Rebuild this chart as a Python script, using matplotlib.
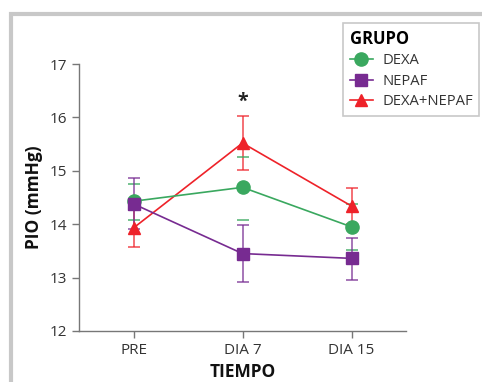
import matplotlib
matplotlib.use("Agg")
import matplotlib.pyplot as plt
from matplotlib.lines import Line2D
from matplotlib.patches import Rectangle

plt.rcParams['font.family'] = ['Open Sans', 'DejaVu Sans']

categories = ["PRE", "DIA 7", "DIA 15"]
dexa = [14.43, 14.69, 13.95]
dexa_hi = [14.75, 15.26, 14.38]
dexa_lo = [14.07, 14.08, 13.52]
nepaf = [14.38, 13.45, 13.36]
nepaf_hi = [14.87, 13.98, 13.75]
nepaf_lo = [13.91, 12.92, 12.96]
combo = [13.93, 15.52, 14.34]
combo_hi = [14.27, 16.02, 14.68]
combo_lo = [13.58, 15.01, 14.00]
yticks = [12, 13, 14, 15, 16, 17]

green = "#3aa85f"
purple = "#772b91"
red = "#ee2229"

fig = plt.figure(figsize=(4.82, 3.82), dpi=100)
ax = fig.add_axes([79/482, 1-331/382, (406-79)/482, (331-64)/382])
x = list(range(len(categories)))

def err(v, hi, lo):
    return [[a - b for a, b in zip(v, lo)], [b - a for a, b in zip(v, hi)]]

# red
ax.errorbar(x, combo, yerr=err(combo, combo_hi, combo_lo), fmt='none', ecolor=red,
            elinewidth=1.3, capsize=4, capthick=1.3, alpha=0.7, zorder=2)
ax.plot(x, combo, color=red, lw=1.2, marker='^', ms=9, zorder=3, label="DEXA+NEPAF")
# green caps only
ax.errorbar(x, dexa, yerr=err(dexa, dexa_hi, dexa_lo), fmt='none', ecolor=green,
            elinewidth=0, capsize=4, capthick=1.3, alpha=0.75, zorder=2)
ax.plot(x, dexa, color=green, lw=1.2, marker='o', ms=9.5, zorder=4, label="DEXA")
# purple
ax.errorbar(x, nepaf, yerr=err(nepaf, nepaf_hi, nepaf_lo), fmt='none', ecolor=purple,
            elinewidth=1.3, capsize=4, capthick=1.3, alpha=0.7, zorder=2)
ax.plot(x, nepaf, color=purple, lw=1.2, marker='s', ms=9, zorder=5, label="NEPAF")

ax.text(1, 16.3, "*", ha='center', va='center', fontsize=14, fontweight='bold', color='#222222')

ax.set_xlim(-0.5, 2.5)
ax.set_ylim(12, 17)
ax.set_xticks(x)
ax.set_xticklabels(categories)
ax.set_yticks(yticks)
for s in ['top', 'right']:
    ax.spines[s].set_visible(False)
for s in ['left', 'bottom']:
    ax.spines[s].set_color('#777777')
    ax.spines[s].set_linewidth(1.0)
ax.tick_params(colors='#777777', labelcolor='#333333', labelsize=11, length=5, width=1)
ax.set_ylabel("PIO (mmHg)", fontsize=12.5, fontweight='bold', color='#111111', labelpad=5)
ax.set_xlabel("TIEMPO", fontsize=12.5, fontweight='bold', color='#111111', labelpad=4)

h = [Line2D([], [], color=green, marker='o', ms=9.5, lw=1.2),
     Line2D([], [], color=purple, marker='s', ms=9, lw=1.2),
     Line2D([], [], color=red, marker='^', ms=9, lw=1.2)]
leg = fig.legend(h, ["DEXA", "NEPAF", "DEXA+NEPAF"], title="GRUPO",
                 loc='upper left', bbox_to_anchor=(343/482, 1-23/382), borderaxespad=0,
                 fontsize=10.6, title_fontproperties={'weight': 'bold', 'size': 12},
                 frameon=True, fancybox=False, handlelength=1.6, handletextpad=0.6,
                 labelspacing=0.38, borderpad=0.45, alignment='left')
leg.get_frame().set_edgecolor('#bbbbbb')
leg.get_frame().set_linewidth(1.2)
for t in leg.get_texts():
    t.set_color('#333333')

# outer gray frame on left and top
fig.add_artist(Rectangle((11/482, -0.1), 1.2, 1 - 14/382 + 0.1, transform=fig.transFigure,
                         fill=False, edgecolor='#c8c8c8', linewidth=3, clip_on=False))

fig.savefig("out.png", dpi=100)
